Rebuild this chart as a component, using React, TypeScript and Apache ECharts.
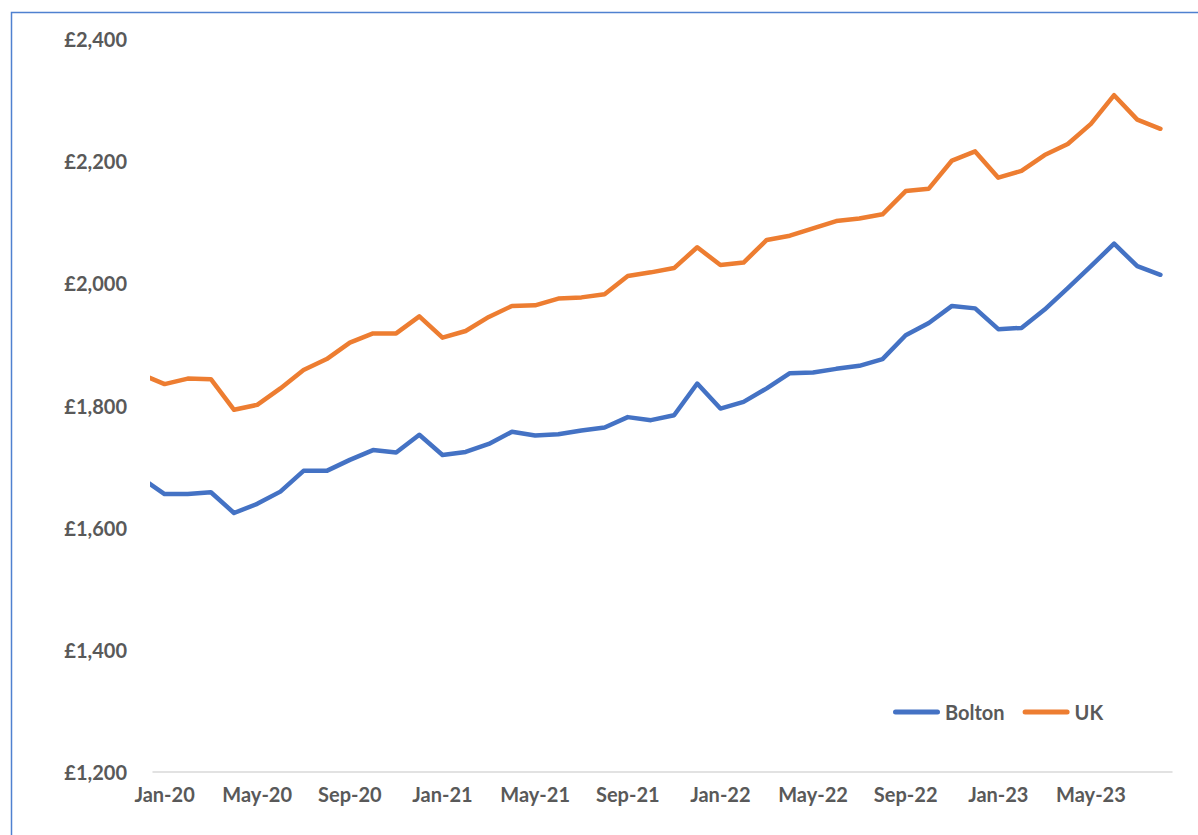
import React, { useEffect, useRef } from "react";
import * as echarts from "echarts";

// Month labels; first entry (Dec-19) lies just outside the visible axis range and is clipped
const months = [
  "Dec-19",
  "Jan-20", "Feb-20", "Mar-20", "Apr-20", "May-20", "Jun-20", "Jul-20", "Aug-20", "Sep-20", "Oct-20", "Nov-20", "Dec-20",
  "Jan-21", "Feb-21", "Mar-21", "Apr-21", "May-21", "Jun-21", "Jul-21", "Aug-21", "Sep-21", "Oct-21", "Nov-21", "Dec-21",
  "Jan-22", "Feb-22", "Mar-22", "Apr-22", "May-22", "Jun-22", "Jul-22", "Aug-22", "Sep-22", "Oct-22", "Nov-22", "Dec-22",
  "Jan-23", "Feb-23", "Mar-23", "Apr-23", "May-23", "Jun-23", "Jul-23", "Aug-23",
];

const bolton = [
  1681,
  1655, 1655, 1658, 1624, 1639, 1659, 1693, 1693, 1711, 1727, 1723, 1752,
  1719, 1724, 1737, 1757, 1751, 1753, 1759, 1764, 1781, 1776, 1784, 1836,
  1795, 1806, 1828, 1853, 1854, 1860, 1865, 1876, 1915, 1935, 1963, 1959,
  1925, 1927, 1957, 1992, 2028, 2065, 2028, 2014,
];

const uk = [
  1851,
  1835, 1844, 1843, 1793, 1801, 1828, 1858, 1876, 1903, 1918, 1918, 1946,
  1911, 1922, 1945, 1963, 1964, 1975, 1977, 1982, 2012, 2018, 2025, 2059,
  2030, 2034, 2071, 2078, 2090, 2102, 2106, 2113, 2151, 2155, 2201, 2216,
  2173, 2184, 2210, 2228, 2261, 2308, 2268, 2253,
];

const xLabelPositions = [0, 4, 8, 12, 16, 20, 24, 28, 32, 36, 40];
const yTicks = { min: 1200, max: 2400, interval: 200 };

const FONT = "Lato";
const TEXT_COLOR = "#595959";

export default function App() {
  const ref = useRef<HTMLDivElement>(null);

  useEffect(() => {
    if (!ref.current) return;
    const chart = echarts.init(ref.current, null, { renderer: "svg" });
    const toPairs = (arr: number[]) => arr.map((v, i) => [i - 1, v]);
    chart.setOption({
      animation: false,
      backgroundColor: "#ffffff",
      grid: { left: 153, right: 26, top: 39, bottom: 63, containLabel: false },
      xAxis: {
        type: "value",
        min: -0.5,
        max: 43.5,
        splitLine: { show: false },
        axisTick: { show: false },
        axisLine: { show: true, lineStyle: { color: "#d9d9d9", width: 1.5 } },
        axisLabel: {
          customValues: xLabelPositions,
          formatter: (v: number) => months[Math.round(v) + 1] ?? "",
          color: TEXT_COLOR,
          fontFamily: FONT,
          fontWeight: "bold",
          fontSize: 20,
          margin: 12,
        },
      },
      yAxis: {
        type: "value",
        min: yTicks.min,
        max: yTicks.max,
        interval: yTicks.interval,
        splitLine: { show: false },
        axisLine: { show: false },
        axisTick: { show: false },
        axisLabel: {
          formatter: (v: number) => "£" + v.toLocaleString("en-GB"),
          color: TEXT_COLOR,
          fontFamily: FONT,
          fontWeight: "bold",
          fontSize: 20,
          margin: 26,
        },
      },
      legend: {
        data: ["Bolton", "UK"],
        left: 893,
        top: 702,
        padding: 0,
        itemWidth: 47,
        itemHeight: 5,
        itemGap: 18,
        icon: "path://M2.5,0 H44.5 A2.5,2.5 0 0 1 44.5,5 H2.5 A2.5,2.5 0 0 1 2.5,0 Z",
        textStyle: { color: TEXT_COLOR, fontFamily: FONT, fontWeight: "bold", fontSize: 20 },
      },
      graphic: [
        {
          type: "rect",
          left: 9,
          top: 10,
          shape: { x: 0, y: 0, width: 1400, height: 1000 },
          style: { fill: "none", stroke: "#4f81d0", lineWidth: 1.5 },
          silent: true,
        },
      ],
      series: [
        {
          name: "Bolton",
          type: "line",
          data: toPairs(bolton),
          showSymbol: false,
          clip: true,
          color: "#4472C4",
          lineStyle: { width: 4.5, color: "#4472C4", join: "round", cap: "round" },
        },
        {
          name: "UK",
          type: "line",
          data: toPairs(uk),
          showSymbol: false,
          clip: true,
          color: "#ED7D31",
          lineStyle: { width: 4.5, color: "#ED7D31", join: "round", cap: "round" },
        },
      ],
    });
    return () => chart.dispose();
  }, []);

  return (
    <div
      ref={ref}
      style={{ position: "absolute", left: 0, top: 0, width: 1198, height: 835 }}
    />
  );
}
